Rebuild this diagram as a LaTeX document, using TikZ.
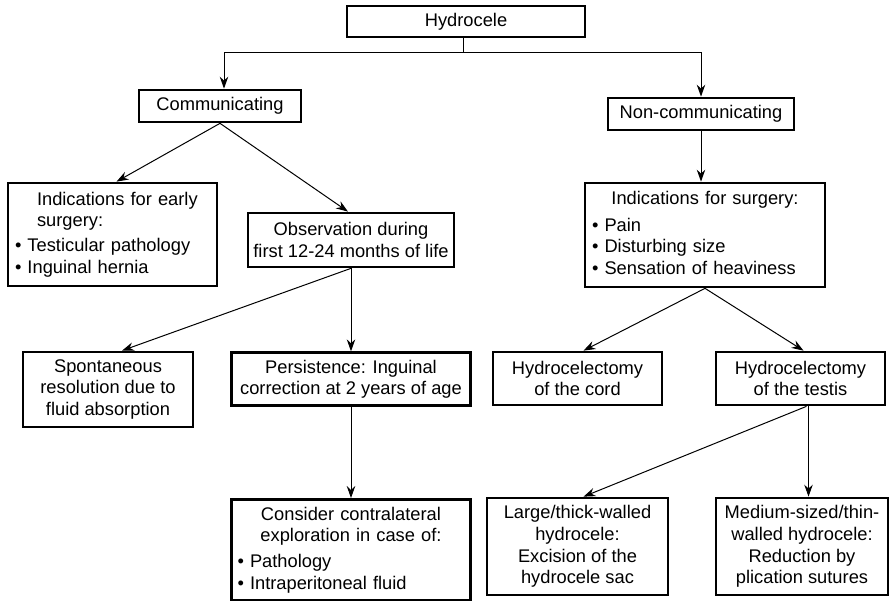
\documentclass[tikz,border=0pt]{standalone}
\usepackage{fontspec}
\setmainfont{Liberation Sans}
\usepackage{tikz}
\usetikzlibrary{arrows.meta,positioning,calc}
\tikzset{
	box/.style={
		rectangle, draw=black, line width=2.7pt, inner sep=2pt,
		align=center, font=\fontsize{18.3}{21.7}\selectfont
	},
	%
	listbox/.style={
		box, align=left
	},
	%
	link/.style={
		line width=1pt, >={Stealth[length=12pt,width=8.5pt,inset=4pt]}, ->
	}
}

\begin{document}
\begin{tikzpicture}[x=1pt,y=1pt]
\useasboundingbox (0,0) rectangle (891,601);
%boxes
\node (hydro) [box, minimum width=238pt, minimum height=31pt] at (466,579.5) {Hydrocele};
\node (comm) [box, minimum width=162pt, minimum height=32pt] at (220,495) {Communicating};
\node (noncomm) [box, minimum width=186pt, minimum height=32pt] at (701,487) {Non-communicating};

\node (early) [listbox, minimum width=209pt, minimum height=103pt, text width=195pt] at (112.5,366.5)
	{\hspace*{22pt}Indications for early\\ \hspace*{22pt}surgery:\\[3pt]
	\textbullet\ Testicular pathology\\ \textbullet\ Inguinal hernia};
\node (observ) [box, minimum width=206pt, minimum height=54pt] at (351,361)
	{Observation during\\first 12-24 months of life};
\node (indic) [listbox, minimum width=240pt, minimum height=104pt, text width=226pt] at (705,366)
	{{\centering Indications for surgery:\par}\vspace{5pt}
	\textbullet\ Pain\\ \textbullet\ Disturbing size\\ \textbullet\ Sensation of heaviness\vspace{4pt}};

\node (spont) [box, minimum width=170pt, minimum height=75pt] at (108,211.5)
	{Spontaneous\\resolution due to\\fluid absorption};
\node (persist) [box, below=83pt of observ, minimum width=239pt, minimum height=53pt]
	{Persistence: Inguinal\\correction at 2 years of age};
\node (cord) [box, minimum width=169pt, minimum height=53pt] at (577.5,222.5)
	{Hydrocelectomy\\of the cord};
\node (testis) [box, minimum width=169pt, minimum height=53pt] at (800.5,222.5)
	{Hydrocelectomy\\of the testis};

\node (consider) [listbox, below=91pt of persist, minimum width=239pt, minimum height=101pt, text width=227pt]
	{{\centering Consider contralateral\\ exploration in case of:\par}\vspace{4pt}
	\textbullet\ Pathology\\ \textbullet\ Intraperitoneal fluid};
\node (large) [box, minimum width=181pt, minimum height=97pt] at (577.5,54.5)
	{Large/thick-walled\\hydrocele:\\Excision of the\\hydrocele sac};
\node (medium) [box, minimum width=172pt, minimum height=97pt] at (802,54.5)
	{Medium-sized/thin-\\walled hydrocele:\\Reduction by\\plication sutures};

%arrows
\draw[line width=1pt] ([xshift=-3pt]hydro.south) -- ++(0,-14pt) coordinate (bus);
\draw[link] (bus) -| ([xshift=4pt]comm.north);
\draw[link] (bus) -| (noncomm.north);

\draw[link] (comm.south) -- ([xshift=4pt]early.north);
\draw[link] (comm.south) -- ([xshift=-3pt]observ.north);
\draw[link] (noncomm.south) -- (noncomm.south |- indic.north);

\draw[link] (observ.south) -- ([xshift=14pt]spont.north);
\draw[link] (observ.south) -- (persist.north);
\draw[link] (indic.south) -- ([xshift=6pt]cord.north);
\draw[link] (indic.south) -- ([xshift=3pt]testis.north);

\draw[link] (persist.south) -- (consider.north);
\draw[link] ([xshift=6pt]testis.south) -- ([xshift=6pt]large.north);
\draw[link] ([xshift=8pt]testis.south) -- ([xshift=8pt]testis.south |- medium.north);
\end{tikzpicture}
\end{document}
